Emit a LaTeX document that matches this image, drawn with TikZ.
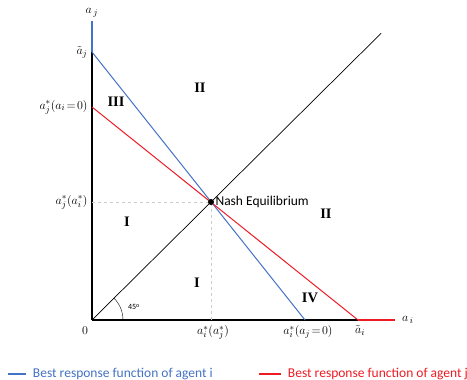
\documentclass[tikz,border=0pt]{standalone}
\usepackage{fontspec}
\setmainfont{Liberation Serif}
\newfontfamily\calib{Carlito}
\usetikzlibrary{calc}
\definecolor{bestblue}{RGB}{68,114,196}
\definecolor{bestred}{RGB}{237,28,36}

\begin{document}
\begin{tikzpicture}[x=1pt, y=1pt,
  axis/.style={line width=1.6pt},
  lbl/.style={font=\fontsize{12.5}{14}\selectfont},
  region/.style={font=\fontsize{14.5}{15}\selectfont\bfseries},
  legend/.style={font=\calib\fontsize{13.5}{14}\selectfont},
  helpline/.style={gray!40, dashed, line width=0.6pt}]
  \useasboundingbox (0,0) rectangle (467,380);
  \coordinate (O) at (92,60);
  \coordinate (Xend) at (395,60);
  \coordinate (Ytop) at (92,359);
  \coordinate (AJT) at (92,328);
  \coordinate (AJ0) at (92,273);
  \coordinate (AI0) at (305,60);
  \coordinate (AIT) at (358,60);
  \coordinate (N) at (211,178);
  \coordinate (NX) at (211,60);
  \coordinate (NY) at (92,178);

  % axes
  \draw[axis] (O) -- (AJT);
  \draw[axis, bestblue] (AJT) -- (Ytop) node[above=0pt, black, lbl] {\(a_{\,j}\)};
  \draw[axis] (O) -- (AIT);
  \draw[axis, bestred] (AIT) -- (Xend) node[right=3pt, black, lbl] {\(a_{\,i}\)};

  % helper lines and 45 degree line
  \draw[helpline] (NY) -- (N) -- (NX);
  \draw[line width=0.7pt] (O) -- ($(O)!2.43!(N)$);
  \draw (123,60) arc (0:45:31);
  \node[font=\calib\fontsize{8}{8}\selectfont] at (134,73) {45\textsuperscript{o}};

  % best responses
  \draw[bestblue, line width=1pt] (AJT) -- (AI0);
  \draw[bestred, line width=1pt] (AJ0) -- (AIT);
  \fill (N) circle (3pt) node[right=1pt, legend] {Nash Equilibrium};

  % axis labels
  \node[left=1pt, lbl] at (AJT) {\(\tilde{a}_j\)};
  \node[left=1pt, lbl] at (AJ0) {\(a^*_j(a_i\!=\!0)\)};
  \node[left=1pt, lbl] at (NY) {\(a^*_j(a^*_i)\)};
  \node[below=3pt, xshift=-7pt, lbl] at (O) {\(0\)};
  \node[below=2pt, xshift=2pt, lbl] at (NX) {\(a^*_i(a^*_j)\)};
  \node[below=2pt, xshift=3pt, lbl] at (AI0) {\(a^*_i(a_j\!=\!0)\)};
  \node[below=2pt, xshift=2pt, lbl] at (AIT) {\(\tilde{a}_i\)};

  % regions
  \node[region] at (200,292) {II};
  \node[region] at (116,278) {III};
  \node[region] at (127,158) {I};
  \node[region] at (326,166) {II};
  \node[region] at (197,97) {I};
  \node[region] at (310,82) {IV};

  % legend
  \coordinate (LB) at (8,6);
  \coordinate (LR) at (259,6);
  \draw[draw=bestblue, line width=1.3pt] (LB) -- ++(18,0) node[right=3pt, bestblue, legend] {Best response function of agent i};
  \draw[draw=bestred, line width=1.3pt] (LR) -- ++(22,0) node[right=3pt, bestred, legend] {Best response function of agent j};
\end{tikzpicture}
\end{document}
